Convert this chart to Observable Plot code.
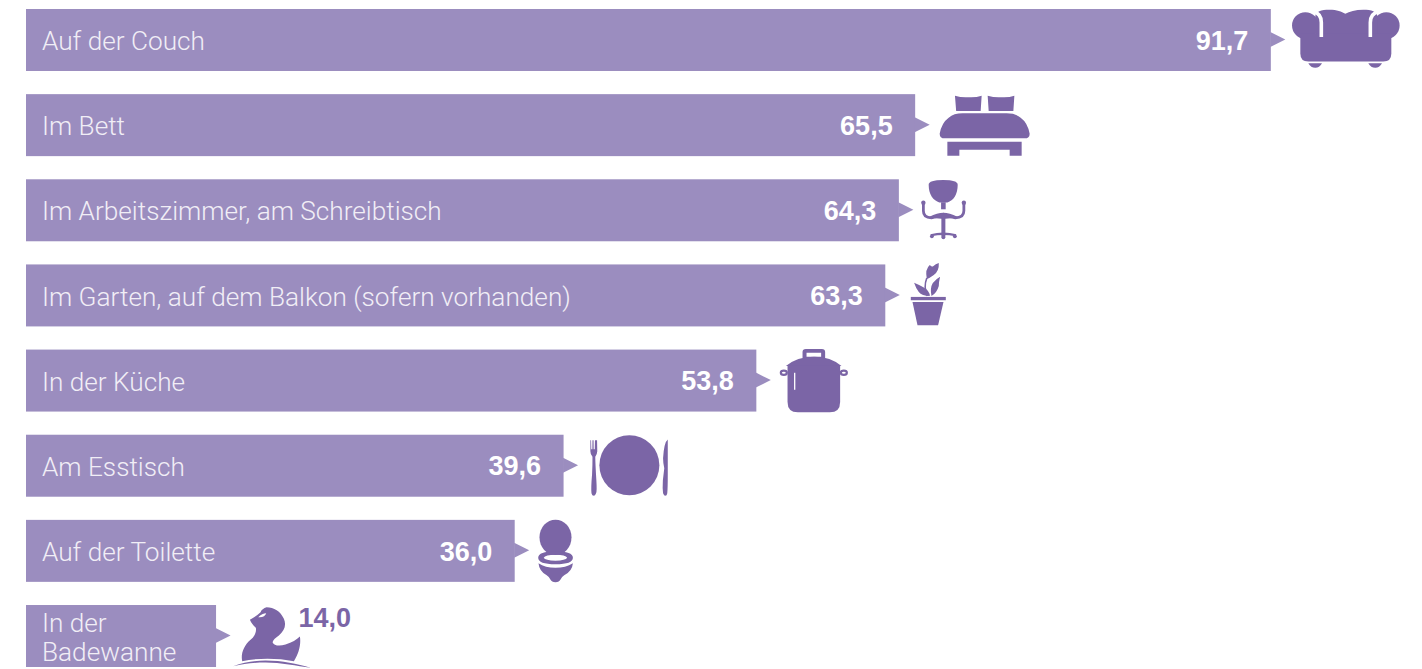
<!DOCTYPE html>
<html lang="de">
<head>
<meta charset="utf-8">
<title>Auf der Couch</title>
<script src="https://cdn.jsdelivr.net/npm/d3@7"></script>
<script src="https://cdn.jsdelivr.net/npm/@observablehq/plot@0.6"></script>
<style>
html,body{margin:0;padding:0;background:#fff;overflow:hidden}
svg{display:block}
</style>
</head>
<body>
<div id="chart"></div>
<script>
const categories = ["Auf der Couch","Im Bett","Im Arbeitszimmer, am Schreibtisch","Im Garten, auf dem Balkon (sofern vorhanden)","In der Küche","Am Esstisch","Auf der Toilette","In der\nBadewanne"];
const values = [91.7,65.5,64.3,63.3,53.8,39.6,36.0,14.0];
const valueLabels = ["91,7","65,5","64,3","63,3","53,8","39,6","36,0","14,0"];
const iconNames = ["couch","bed","chair","plant","pot","plate","toilet","duck"];

const rows = categories.map((category,i)=>({category,value:values[i],label:valueLabels[i],icon:iconNames[i]}));
const BAR="#9b8dbf", ICON="#7b65a6";

const icons = {
  couch:`<circle cx="34" cy="-15" r="13.3"/><circle cx="115" cy="-15" r="13.3"/>
    <path d="M44 -24C44 -29 50 -30.7 58 -30.7C66 -30.7 70 -29 74 -26.7C78 -29 84 -30.7 92 -30.7C100 -30.7 106 -29 106 -24L106 0L44 0Z"/>
    <path d="M29 -7L120 -7L120 13Q120 21 112 21L37 21Q29 21 29 13Z"/>
    <path d="M37 22.7L50.7 22.7Q48 27.3 44 27.3Q39.5 27.3 37 22.7Z"/><path d="M97 22.7L110.7 22.7Q108 27.3 104 27.3Q99.5 27.3 97 22.7Z"/>
    <path d="M42 -29Q50 -27 50 -18L50 -3.5M107.3 -29Q99 -27 99 -18L99 -3.5" fill="none" stroke="#fff" stroke-width="3.6"/>`,
  bed:`<path d="M39.3 -30Q46 -28 52.5 -28.5Q60 -28 66 -30L65 -14.7L40.5 -14.7Z"/><path d="M72 -30Q79 -28 85.5 -28.5Q93 -28 98.7 -30L97.7 -14.7L73 -14.7Z"/>
    <path d="M24 8Q26 -3 33 -8Q38 -12.3 47 -12.3L91 -12.3Q100 -12.3 105 -8Q112 -3 114 8Q114 12.7 109 12.7L29 12.7Q24 12.7 24 8Z"/>
    <path d="M31.7 16L106 16L106 30L94 30L94 24L43.7 24L43.7 30L31.7 30Z"/>`,
  chair:`<path d="M29.3 -26Q29.3 -30.7 44 -30.7Q58.3 -30.7 58.3 -26C58.3 -16 54 -10 48 -8.3L40 -8.3C34 -10 29.3 -16 29.3 -26Z"/>
    <rect x="41.7" y="-8.5" width="4.6" height="7"/>
    <path d="M24 -7L24 0Q24 7 32 7Q38 6 44 3.5Q50 6 56 7Q64.5 7 64.5 0L64.5 -7" fill="none" stroke="${ICON}" stroke-width="2.8"/>
    <circle cx="24" cy="-8" r="2.2"/><circle cx="64.5" cy="-8" r="2.2"/>
    <path d="M30 6Q38 2 44 2Q50 2 58 6Q50 8.5 44 8Q38 8.5 30 6Z"/>
    <rect x="42" y="4" width="4" height="22"/>
    <path d="M31 23.5Q44 20 57 23.5L56 25.5Q44 23 32 25.5Z"/>
    <circle cx="32.5" cy="25.5" r="1.9"/><circle cx="44" cy="26.5" r="1.9"/><circle cx="55.5" cy="25.5" r="1.9"/>`,
  plant:`<rect x="25" y="1" width="35" height="3.3"/><path d="M26.7 6L57.7 6L52.3 29.3L31.7 29.3Z"/>
    <path d="M41.5 0Q37.5 -9 41 -18" fill="none" stroke="${ICON}" stroke-width="1.6"/>
    <path d="M41 -17Q39 -27 44 -31Q46 -29 47 -29.5Q50 -32.5 53 -33Q53.5 -25 48 -21Q44 -18 41 -17Z"/>
    <path d="M28.3 -13.3Q34 -11 38 -8.5Q44 -5 44 0Q36 0 33 -4Q30 -8 28.3 -13.3Z"/>
    <path d="M54.3 -19.3Q53 -14 53 -10Q51 -3 45.7 0Q44 -8 47 -13Q50 -17 54.3 -19.3Z"/>`,
  pot:`<path d="M45.7 -23L45.7 -29Q45.7 -32 49 -32L65 -32Q68.3 -32 68.3 -29L68.3 -23ZM49.7 -24.3L64.3 -24.3L64.3 -28.3L49.7 -28.3Z" fill-rule="evenodd"/>
    <path d="M29 -15Q40 -24.3 57.3 -24.3Q74 -24.3 84.7 -15Z"/>
    <path d="M30.7 -15.5L83.3 -15.5L83.3 21Q83.3 31.3 73 31.3L41 31.3Q30.7 31.3 30.7 21Z"/>
    <ellipse cx="27" cy="-8.3" rx="3" ry="2.1" fill="none" stroke="${ICON}" stroke-width="2.2"/><ellipse cx="87" cy="-8.3" rx="3" ry="2.1" fill="none" stroke="${ICON}" stroke-width="2.2"/>
    <rect x="37.2" y="-8.3" width="1.3" height="17" fill="#fff"/>`,
  plate:`<circle cx="65.3" cy="-1" r="30"/>
    <path d="M26.3 -26L27 -26L27.2 -17L28.3 -17L28.4 -26L29.5 -26L29.6 -17L30.7 -17L30.9 -26L31.9 -26L32.2 -26L33 -26L33.2 -15Q33 -11.5 31.2 -9.5Q31.3 -2 32.3 14Q33 25 32 27Q31 29.5 29.7 29.5Q28 29.5 27.4 27Q26.8 22 28 8Q28.5 -2 28.4 -9.5Q26.3 -11.5 26.3 -15Z"/>
    <path d="M103.7 -26.7Q100 -24 99 -8Q99 -3 100.2 2Q99.5 8 98.8 14Q98.3 22 99 27Q100 29.5 101.2 29.5Q102.8 29.5 103.2 27Q103.7 22 103.7 8Z"/>`,
  toilet:`<ellipse cx="40.3" cy="-14" rx="16" ry="17.7"/>
    <path d="M23 6.5Q23 0 40.3 0Q57.7 0 57.7 6.5Q57.7 13 40.3 13Q23 13 23 6.5ZM28.5 6.5Q30 9.3 40.3 9.3Q50.5 9.3 52 6.5Q50.5 3.5 40.3 3.5Q30 3.5 28.5 6.5Z" fill-rule="evenodd"/>
    <path d="M23.3 12Q30 16.5 40.3 16.5Q50.5 16.5 57.7 12Q57 20 49 24Q46 26 45.5 28Q44 31 40.3 31Q36.5 31 35 28Q34.5 26 31.5 24Q24 20 23.3 12Z"/>`,
  duck:`<g transform="translate(-6 -36) scale(.33333)">
    <path d="M118 58C128 52 140 45 150 35C152 28 160 22 168 20C190 20 210 32 220 55C228 75 222 90 205 105C195 112 188 118 186 125C190 135 205 138 225 132C245 125 258 118 268 108C272 130 265 160 250 182C200 172 140 172 95 182C90 160 100 135 120 118C132 108 138 95 136 82C128 75 122 68 118 58Z"/>
    <path d="M143 50C150 42 160 38 167 38C165 46 155 52 143 50Z" fill="#fff"/>
    <path d="M68 197C100 185 130 180 165 180C215 180 260 190 300 202C260 196 210 186 165 186C130 186 100 190 68 197Z"/></g>`
};
const iconSrc = name => "data:image/svg+xml;charset=utf-8," + encodeURIComponent(
  `<svg xmlns="http://www.w3.org/2000/svg" width="140" height="80" viewBox="0 -40 140 80" fill="${ICON}">${icons[name]}</svg>`);

const pointer = {draw(c){c.moveTo(-1,-7.5);c.lineTo(14,0);c.lineTo(-1,7.5);c.closePath();}};
const SANS = "'Liberation Sans', Arial, sans-serif";
const LIGHT = "Roboto, 'Liberation Sans', sans-serif";

const chart = Plot.plot({
  width:1422,height:669,margin:0,
  x:{domain:[0,100],range:[26,1383.5],axis:null},
  y:{domain:categories,range:[9,667],paddingInner:0.272,paddingOuter:0,round:false,axis:null},
  marks:[
    Plot.barX(rows,{x1:0,x2:"value",y:"category",fill:BAR}),
    Plot.dot(rows,{x:"value",y:"category",symbol:pointer,fill:BAR,r:5,dy:-1}),
    Plot.image(rows,{x:"value",y:"category",src:d=>iconSrc(d.icon),width:140,height:80,dx:70}),
    Plot.text(rows,{x:0,y:"category",text:"category",textAnchor:"start",dx:15.5,dy:0.3,fill:"#f1eef6",fontSize:26.2,lineHeight:1.11,fontFamily:LIGHT,fontWeight:300}),
    Plot.text(rows.filter(d=>d.value>20),{x:"value",y:"category",text:"label",textAnchor:"end",dx:-23,dy:0.5,fill:"#fff",fontSize:27,fontFamily:SANS,fontWeight:700}),
    Plot.text(rows.filter(d=>d.value<=20),{x:"value",y:"category",text:"label",textAnchor:"start",dx:82,dy:-18,fill:ICON,fontSize:27,fontFamily:SANS,fontWeight:700})
  ]
});
document.getElementById("chart").append(chart);
</script>
</body>
</html>
